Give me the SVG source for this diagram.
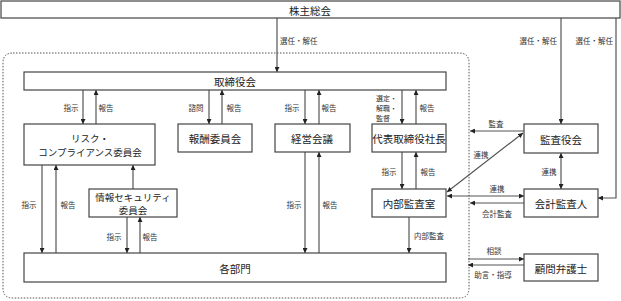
<svg xmlns="http://www.w3.org/2000/svg" width="621" height="301" viewBox="0 0 621 301">
<style>
text{font-family:"Noto Sans CJK JP","Noto Sans",sans-serif;fill:#222;dominant-baseline:central;text-anchor:middle}
.box{fill:#fff;stroke:#444;stroke-width:1.2}
.t{font-size:10.5px}
.m{font-size:9.5px}
.s{font-size:7.5px;fill:#333}
.x{font-size:7px;fill:#333}
.c line,.c polyline{stroke:#555;stroke-width:1.2;fill:none}
.a{marker-end:url(#ah)}
.d{marker-start:url(#ah);marker-end:url(#ah)}
</style>
<defs>
<marker id="ah" viewBox="0 0 10 10" refX="10" refY="5" markerWidth="5" markerHeight="5" markerUnits="userSpaceOnUse" orient="auto-start-reverse">
<path d="M0,0 L10,5 L0,10 z" fill="#222"/>
</marker>
</defs>
<rect width="621" height="301" fill="#fff"/>
<path d="M13,53 H459 Q469,53 469,63 V288 Q469,298 459,298 H13 Q3,298 3,288 V63 Q3,53 13,53 Z" fill="none" stroke="#555" stroke-width="1" stroke-dasharray="1.5,1.5"/>

<g class="c" id="connectors">
<line class="a" x1="277" y1="18" x2="277" y2="72"/>
<line class="a" x1="561" y1="18" x2="561" y2="124"/>
<polyline class="a" points="616,18 616,198 598,198"/>
<line class="a" x1="83" y1="90" x2="83" y2="124"/>
<line class="a" x1="96" y1="124" x2="96" y2="90"/>
<line class="a" x1="209" y1="90" x2="209" y2="124"/>
<line class="a" x1="222" y1="124" x2="222" y2="90"/>
<line class="a" x1="305" y1="90" x2="305" y2="124"/>
<line class="a" x1="319" y1="124" x2="319" y2="90"/>
<line class="a" x1="402" y1="90" x2="402" y2="124"/>
<line class="a" x1="416" y1="124" x2="416" y2="90"/>
<line class="a" x1="42" y1="165" x2="42" y2="253"/>
<line class="a" x1="56" y1="253" x2="56" y2="165"/>
<line class="a" x1="133" y1="189" x2="133" y2="165"/>
<line class="a" x1="127" y1="217" x2="127" y2="253"/>
<line class="a" x1="140" y1="253" x2="140" y2="217"/>
<line class="a" x1="305" y1="152" x2="305" y2="253"/>
<line class="a" x1="319" y1="253" x2="319" y2="152"/>
<line class="a" x1="402" y1="152" x2="402" y2="189"/>
<line class="a" x1="416" y1="189" x2="416" y2="152"/>
<line class="a" x1="409" y1="217" x2="409" y2="253"/>
<line class="a" x1="524" y1="131" x2="470" y2="131"/>
<line class="d" x1="523" y1="133" x2="447" y2="192"/>
<line class="d" x1="561" y1="153" x2="561" y2="189"/>
<line class="d" x1="447" y1="196" x2="524" y2="196"/>
<line class="a" x1="524" y1="203" x2="470" y2="203"/>
<line class="a" x1="468" y1="259" x2="524" y2="259"/>
<line class="a" x1="524" y1="265" x2="468" y2="265"/>
<text class="s" x="280" y="40" style="text-anchor:start">選任・解任</text>
<text class="s" x="557" y="40" style="text-anchor:end">選任・解任</text>
<text class="s" x="613" y="40" style="text-anchor:end">選任・解任</text>
<text class="s" x="71" y="107">指示</text>
<text class="s" x="106" y="107">報告</text>
<text class="s" x="196" y="107">諮問</text>
<text class="s" x="234" y="107">報告</text>
<text class="s" x="292" y="107">指示</text>
<text class="s" x="329" y="107">報告</text>
<text class="x" x="376" y="97.5" style="text-anchor:start">選定・</text>
<text class="x" x="376" y="107.5" style="text-anchor:start">解職・</text>
<text class="x" x="376" y="117.5" style="text-anchor:start">監督</text>
<text class="s" x="427" y="107">報告</text>
<text class="s" x="29" y="204">指示</text>
<text class="s" x="68" y="204">報告</text>
<text class="s" x="114" y="236">指示</text>
<text class="s" x="150" y="236">報告</text>
<text class="s" x="294" y="204">指示</text>
<text class="s" x="330" y="204">報告</text>
<text class="s" x="389" y="171">指示</text>
<text class="s" x="428" y="171">報告</text>
<text class="s" x="414" y="235" style="text-anchor:start">内部監査</text>
<text class="s" x="496" y="123">監査</text>
<text class="s" x="481" y="154">連携</text>
<text class="s" x="549" y="171">連携</text>
<text class="s" x="497" y="188">連携</text>
<text class="s" x="497" y="213">会計監査</text>
<text class="s" x="494" y="250">相談</text>
<text class="s" x="493" y="274">助言・指導</text>
</g>

<g id="kabunushi"><rect class="box" x="1" y="1" width="619" height="17"/><text class="t" x="310" y="10">株主総会</text></g>
<g id="torishimariyakukai"><rect class="box" x="24" y="72" width="422" height="18"/><text class="t" x="235" y="81">取締役会</text></g>
<g id="risk"><rect class="box" x="24" y="124" width="131" height="41"/><text class="m" x="90" y="137.5">リスク・</text><text class="m" x="90" y="151.5">コンプライアンス委員会</text></g>
<g id="hoshu"><rect class="box" x="178" y="124" width="74" height="28"/><text class="t" x="215" y="138">報酬委員会</text></g>
<g id="keiei"><rect class="box" x="275" y="124" width="75" height="28"/><text class="t" x="312" y="138">経営会議</text></g>
<g id="daihyo"><rect class="box" x="372" y="124" width="74" height="28"/><text class="t" x="409" y="138">代表取締役社長</text></g>
<g id="joho"><rect class="box" x="89" y="189" width="88" height="28"/><text class="m" x="133" y="196.5">情報セキュリティ</text><text class="m" x="133" y="209.5">委員会</text></g>
<g id="naibu"><rect class="box" x="372" y="189" width="74" height="28"/><text class="t" x="409" y="203">内部監査室</text></g>
<g id="kakubumon"><rect class="box" x="24" y="253" width="422" height="29"/><text class="t" x="235" y="268">各部門</text></g>
<g id="kansayakukai"><rect class="box" x="524" y="124" width="74" height="29"/><text class="t" x="561" y="139">監査役会</text></g>
<g id="kaikei"><rect class="box" x="524" y="189" width="74" height="28"/><text class="t" x="561" y="203">会計監査人</text></g>
<g id="komon"><rect class="box" x="524" y="254" width="74" height="27"/><text class="t" x="561" y="268">顧問弁護士</text></g>
</svg>
